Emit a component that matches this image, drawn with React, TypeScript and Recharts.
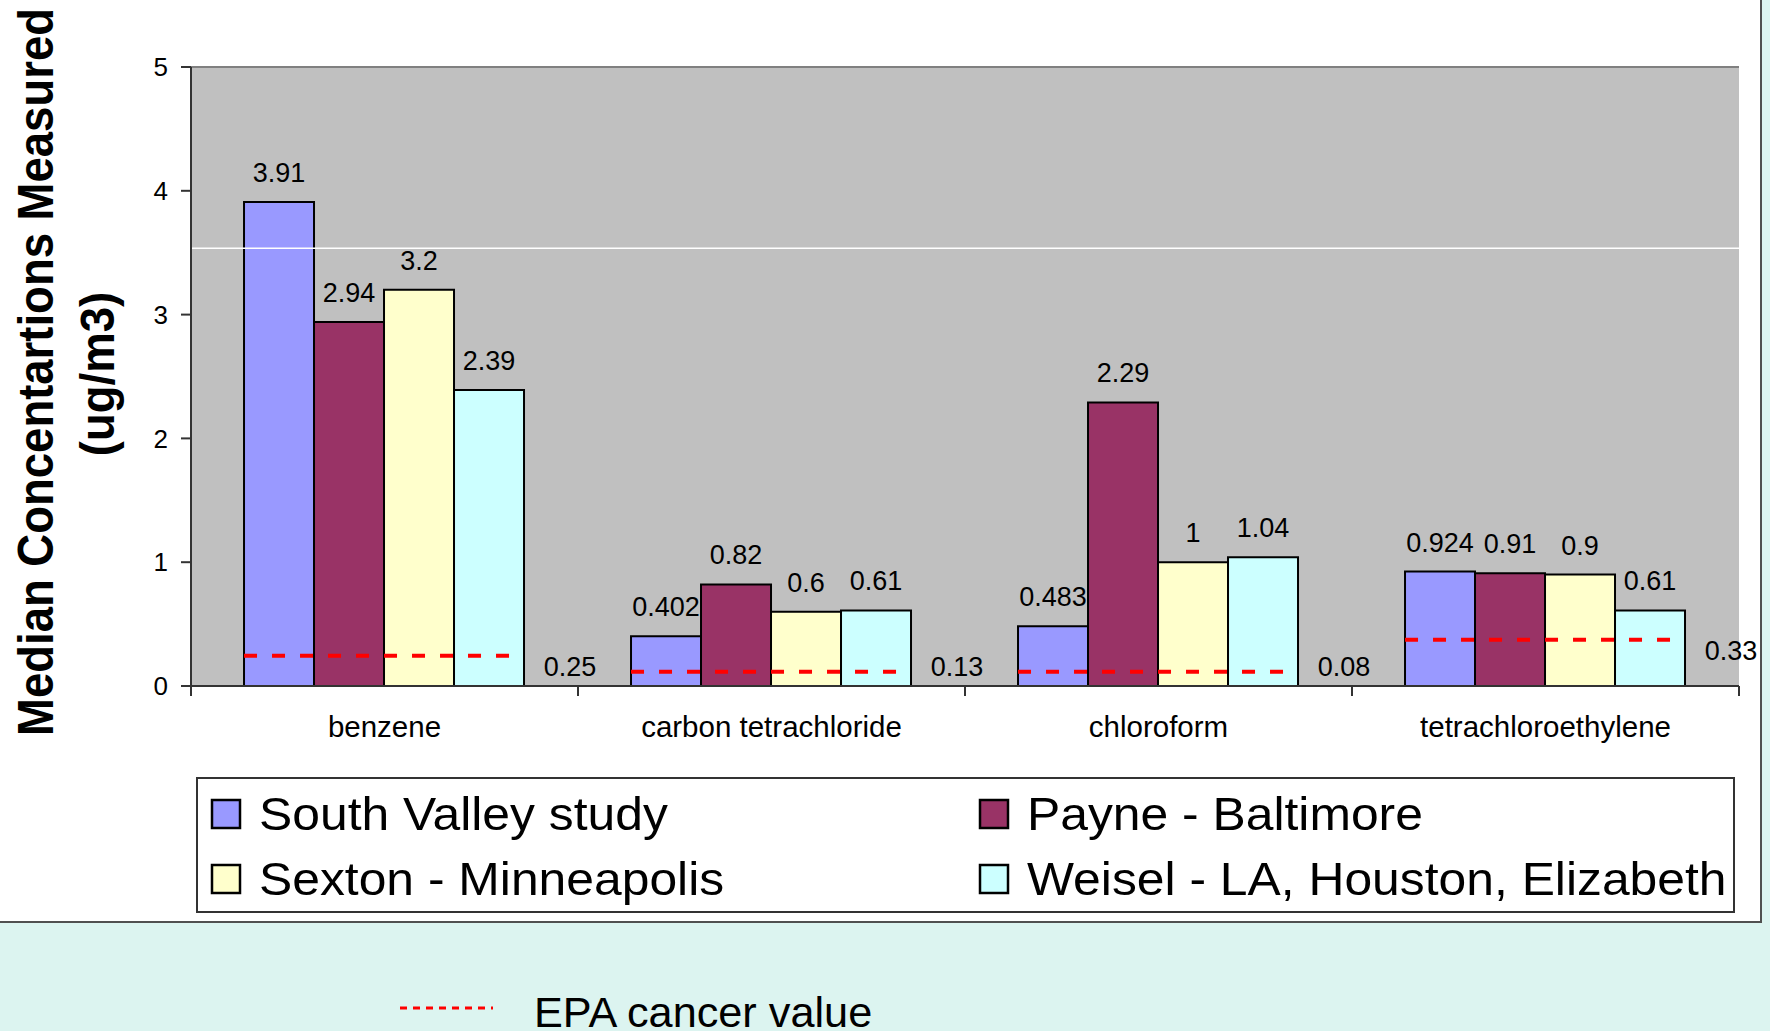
import { Bar, CartesianGrid, ComposedChart, LabelList, ReferenceLine, XAxis, YAxis } from "recharts";

const CATEGORIES = ["benzene", "carbon tetrachloride", "chloroform", "tetrachloroethylene"];
const SOUTH_VALLEY = [3.91, 0.402, 0.483, 0.924];
const PAYNE = [2.94, 0.82, 2.29, 0.91];
const SEXTON = [3.2, 0.6, 1, 0.9];
const WEISEL = [2.39, 0.61, 1.04, 0.61];
// EPA cancer values as labelled, and the level where each dashed line was drawn
const EPA_CANCER = [0.25, 0.13, 0.08, 0.33];
const EPA_LINE_LEVEL = [0.245, 0.115, 0.115, 0.373];
const Y_TICKS = [0, 1, 2, 3, 4, 5];
const STRAY_LINE = 3.535; // the lone white line across the plot

const SERIES = [
  { key: "southValley", name: "South Valley study", color: "#9999FF", values: SOUTH_VALLEY },
  { key: "payne", name: "Payne - Baltimore", color: "#993366", values: PAYNE },
  { key: "sexton", name: "Sexton - Minneapolis", color: "#FFFFCC", values: SEXTON },
  { key: "weisel", name: "Weisel - LA, Houston, Elizabeth", color: "#CCFFFF", values: WEISEL },
];

const data = CATEGORIES.map((category, i) => {
  const row: Record<string, string | number> = { category, epa: EPA_LINE_LEVEL[i], epaLabel: EPA_CANCER[i] };
  SERIES.forEach((s) => (row[s.key] = s.values[i]));
  return row;
});

const FONT = '"Liberation Sans", Arial, sans-serif';
const CHART_W = 1760;
const CHART_H = 921;
const PLOT_LEFT = 191;
const PLOT_RIGHT = 1739;
const BAND = (PLOT_RIGHT - PLOT_LEFT) / CATEGORIES.length;
const AXIS_DARK = "#333333";

function CategoryTick(props: any) {
  const { x, y, payload, index } = props;
  const half = BAND / 2;
  return (
    <g>
      {index === 0 && <line x1={x - half} x2={x - half} y1={y} y2={y + 10} stroke={AXIS_DARK} strokeWidth={2} />}
      <line x1={x + half} x2={x + half} y1={y} y2={y + 10} stroke={AXIS_DARK} strokeWidth={2} />
      <text x={x} y={y + 51} textAnchor="middle" fontSize={29.5} fill="#000" fontFamily={FONT}>
        {payload.value}
      </text>
    </g>
  );
}

// dashed EPA cancer value across the group, with its number to the right
function EpaMark(props: any) {
  const { x, y, width, height, payload } = props;
  const base = y + height;
  const labelY = Math.min(y + 11, base - 19);
  return (
    <g>
      <line x1={x} x2={x + width - 10} y1={y} y2={y} stroke="#FF0000" strokeWidth={4} strokeDasharray="13 15" />
      <text x={x + width + 45} y={labelY} textAnchor="middle" dominantBaseline="central" fontSize={27} fill="#000" fontFamily={FONT}>
        {payload.epaLabel}
      </text>
    </g>
  );
}

function YTitle() {
  return (
    <g fontFamily={FONT} fontWeight="bold" fontSize={45.5} fill="#000">
      <text transform="translate(53, 372) rotate(-90) scale(1, 1.08)" textAnchor="middle">
        Median Concentartions Measured
      </text>
      <text transform="translate(114, 374) rotate(-90) scale(1, 1.06)" textAnchor="middle">
        (ug/m3)
      </text>
    </g>
  );
}

const LEGEND_ORDER = [
  [SERIES[0], SERIES[1]],
  [SERIES[2], SERIES[3]],
];

export default function App() {
  return (
    <div style={{ position: "absolute", left: 0, top: 0, width: 1770, height: 1031, background: "#DCF4F0", fontFamily: FONT, overflow: "hidden" }}>
      <div
        style={{
          position: "absolute",
          left: 0,
          top: 0,
          width: CHART_W,
          height: CHART_H,
          background: "#fff",
          borderRight: "2px solid #505050",
          borderBottom: "2px solid #505050",
        }}
      >
        <ComposedChart
          width={CHART_W}
          height={CHART_H}
          data={data}
          margin={{ top: 67, right: CHART_W - PLOT_RIGHT, left: PLOT_LEFT - 80, bottom: 175 }}
          barCategoryGap="13.7%"
          barGap={0}
        >
          <CartesianGrid fill="#C0C0C0" horizontal={false} vertical={false} />
          <XAxis
            dataKey="category"
            height={60}
            tickLine={false}
            tickSize={0}
            tickMargin={0}
            axisLine={{ stroke: AXIS_DARK, strokeWidth: 2 }}
            tick={<CategoryTick />}
            interval={0}
          />
          <XAxis xAxisId="epa" dataKey="category" hide />
          <YAxis
            width={80}
            domain={[0, 5]}
            ticks={Y_TICKS}
            tickSize={10}
            tickMargin={13}
            tickLine={{ stroke: AXIS_DARK, strokeWidth: 2 }}
            axisLine={{ stroke: AXIS_DARK, strokeWidth: 2 }}
            tick={{ fontSize: 26, fill: "#000", fontFamily: FONT }}
            label={{ content: () => <YTitle /> }}
          />
          <YAxis
            yAxisId="frame"
            orientation="right"
            width={0}
            domain={[0, 5]}
            tick={false}
            tickLine={false}
            axisLine={{ stroke: "#808080", strokeWidth: 2 }}
          />
          <ReferenceLine y={5} stroke="#808080" strokeWidth={2} />
          <ReferenceLine y={STRAY_LINE} stroke="#FFFFFF" strokeWidth={1.5} />
          {SERIES.map((s) => (
            <Bar key={s.key} dataKey={s.key} name={s.name} fill={s.color} stroke="#000" strokeWidth={2} isAnimationActive={false}>
              <LabelList dataKey={s.key} position="top" offset={20} fill="#000" fontSize={27} fontFamily={FONT} />
            </Bar>
          ))}
          <Bar xAxisId="epa" dataKey="epa" name="EPA cancer value" fill="none" shape={<EpaMark />} isAnimationActive={false} />
        </ComposedChart>

        <svg style={{ position: "absolute", left: 196, top: 777 }} width={1540} height={136}>
          <rect x={1} y={1} width={1537} height={134} fill="#fff" stroke="#333" strokeWidth={2} />
          {LEGEND_ORDER.map((row, r) =>
            row.map((s, c) => {
              const sx = c === 0 ? 16 : 784;
              const sy = r === 0 ? 23 : 88;
              return (
                <g key={s.key}>
                  <rect x={sx} y={sy} width={28} height={28} fill={s.color} stroke="#000" strokeWidth={2.5} />
                  <text transform={`translate(${sx + 47}, ${sy + 30}) scale(1.06, 1)`} fontSize={47} fill="#000" fontFamily={FONT}>
                    {s.name}
                  </text>
                </g>
              );
            })
          )}
        </svg>
      </div>

      <svg style={{ position: "absolute", left: 0, top: 940 }} width={900} height={91}>
        <line x1={400} x2={493} y1={68} y2={68} stroke="#FF0000" strokeWidth={3} strokeDasharray="7 6" />
        <text transform="translate(534, 87) scale(1.03, 1)" fontSize={42} fill="#000" fontFamily={FONT}>
          EPA cancer value
        </text>
      </svg>
    </div>
  );
}
